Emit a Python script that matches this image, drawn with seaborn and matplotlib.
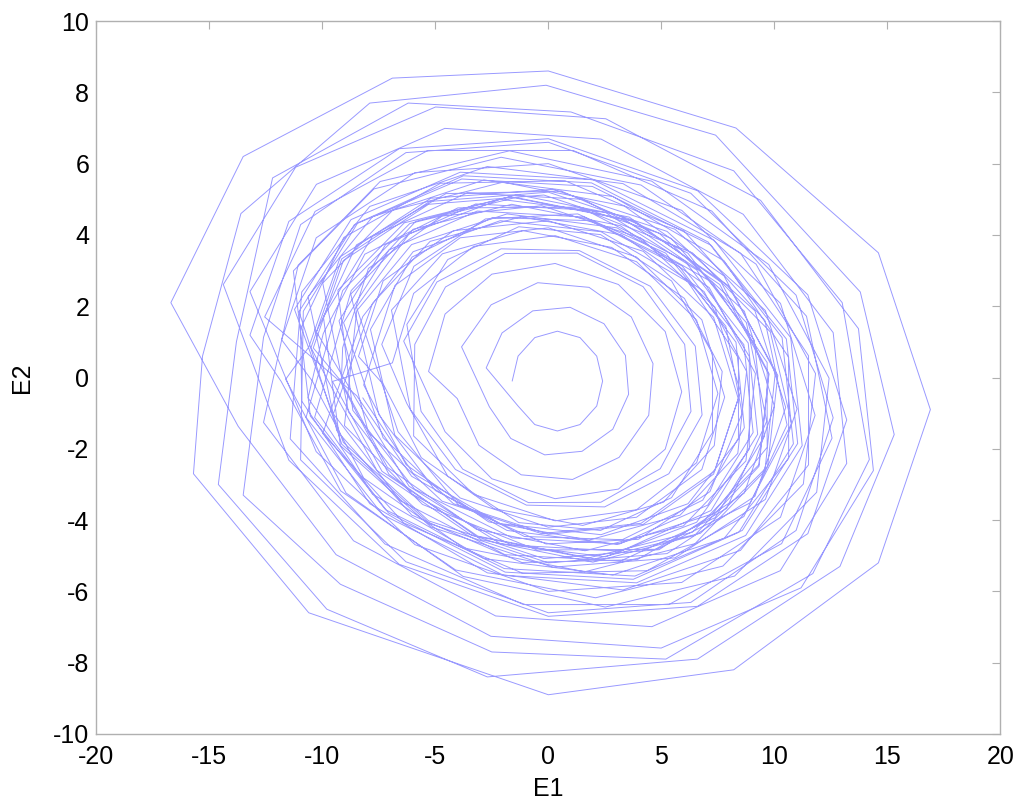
import matplotlib
matplotlib.use("Agg")
import matplotlib.pyplot as plt
import seaborn as sns
import pandas as pd

# trajectory samples (E1, E2), one revolution per line, clockwise
e1 = [
    -1.6, -1.34, -0.6, 0.4, 1.4, 2.14, 2.4, 2.14, 1.4, 0.4, -0.6, -1.34,
    -2.75, -2.05, -0.69, 0.96, 2.46, 3.41, 3.55, 2.85, 1.49, -0.16, -1.66, -2.61,
    -3.84, -2.53, -0.47, 1.80, 3.67, 4.63, 4.44, 3.13, 1.07, -1.20, -3.07, -4.03,
    -5.3, -4.57, -2.5, 0.3, 3.1, 5.17, 5.9, 5.17, 3.1, 0.3, -2.5, -4.57,
    -6.4, -4.93, -2.09, 1.37, 4.51, 6.5, 6.8, 5.33, 2.49, -0.97, -4.11, -6.1,
    -6.94, -4.69, -1.12, 2.8, 6.02, 7.69, 7.34, 5.09, 1.52, -2.4, -5.62, -7.29,
    -8.4, -7.31, -4.2, 0.0, 4.2, 7.31, 8.4, 7.31, 4.2, 0.0, -4.2, -7.31,
    -9.06, -7.05, -3.15, 1.60, 5.92, 8.65, 9.06, 7.05, 3.15, -1.60, -5.92, -8.65,
    -9.31, -6.37, -1.72, 3.39, 7.58, 9.75, 9.31, 6.37, 1.72, -3.39, -7.58, -9.75,
    -10.5, -9.14, -5.25, 0.0, 5.25, 9.14, 10.5, 9.14, 5.25, 0.0, -5.25, -9.14,
    -11.03, -8.58, -3.83, 1.95, 7.20, 10.53, 11.03, 8.58, 3.83, -1.95, -7.20, -10.53,
    -11.28, -7.72, -2.09, 4.10, 9.19, 11.82, 11.28, 7.72, 2.09, -4.10, -9.19, -11.82,
    -13.2, -11.48, -6.6, 0.0, 6.6, 11.48, 13.2, 11.48, 6.6, 0.0, -6.6, -11.48,
    -14.38, -11.18, -4.99, 2.54, 9.39, 13.72, 14.38, 11.18, 4.99, -2.54, -9.39, -13.72,
    -16.7, -13.5, -6.9, 0.0, 8.3, 14.6, 16.9, 14.6, 8.2, 0.0, -10.6, -15.7,
    -15.3, -13.6, -7.9, -0.1, 7.4, 13.8, 15.3, 12.9, 6.6, -2.7, -9.8, -14.6,
    -13.8, -12.2, -6.2, 1.0, 8.2, 13.0, 14.2, 11.7, 5.2, -2.5, -9.2, -13.5,
    -12.6, -10.96, -6.3, 0.0, 6.3, 10.96, 12.6, 10.96, 6.3, 0.0, -6.3, -10.96,
    -10.84, -8.43, -3.76, 1.91, 7.07, 10.34, 10.84, 8.43, 3.76, -1.91, -7.07, -10.34,
    -8.72, -5.87, -1.37, 3.58, 7.65, 9.76, 9.32, 6.47, 1.97, -2.98, -7.05, -9.16,
    -9.1, -7.96, -4.7, -0.3, 4.1, 7.36, 8.5, 7.36, 4.1, -0.3, -4.7, -7.96,
    -9.26, -7.20, -3.21, 1.64, 6.04, 8.84, 9.26, 7.20, 3.21, -1.64, -6.04, -8.84,
    -9.98, -6.89, -2.01, 3.36, 7.77, 10.04, 9.58, 6.49, 1.61, -3.76, -8.17, -10.44,
    -11.8, -10.27, -5.9, 0.0, 5.9, 10.27, 11.8, 10.27, 5.9, 0.0, -5.9, -10.27,
    -13.20, -10.26, -4.58, 2.33, 8.62, 12.60, 13.20, 10.26, 4.58, -2.33, -8.62, -12.60,
    -11.07, -7.44, -1.72, 4.57, 9.75, 12.42, 11.87, 8.24, 2.52, -3.77, -8.95, -11.62,
    -10.6, -9.2, -5.2, 0.2, 5.6, 9.6, 11.0, 9.6, 5.6, 0.2, -5.2, -9.2,
    -9.95, -7.78, -3.59, 1.52, 6.17, 9.11, 9.55, 7.38, 3.19, -1.92, -6.57, -9.51,
    -7.78, -5.23, -1.20, 3.24, 6.89, 8.77, 8.38, 5.83, 1.80, -2.64, -6.29, -8.17,
    -7.8, -6.79, -3.9, 0.0, 3.9, 6.79, 7.8, 6.79, 3.9, 0.0, -3.9, -6.79,
    -7.87, -6.03, -2.47, 1.86, 5.80, 8.30, 8.67, 6.83, 3.27, -1.06, -5.00, -7.50,
    -8.74, -5.98, -1.62, 3.18, 7.12, 9.16, 8.74, 5.98, 1.62, -3.18, -7.12, -9.16,
    -10.4, -9.07, -5.3, -0.2, 4.9, 8.67, 10.0, 8.67, 4.9, -0.2, -5.3, -9.07,
    -11.23, -8.73, -3.90, 1.98, 7.33, 10.72, 11.23, 8.73, 3.90, -1.98, -7.33, -10.72,
    -9.1, -6.13, -1.44, 3.72, 7.96, 10.15, 9.7, 6.73, 2.04, -3.12, -7.36, -9.55,
    -6.9, -5.96, -3.3, 0.3, 3.9, 6.56, 7.5, 6.56, 3.9, 0.3, -3.3, -5.96,
    -5.91, -4.55, -1.92, 1.28, 4.19, 6.03, 6.31, 4.95, 2.32, -0.88, -3.79, -5.63,
    -6.26, -4.45, -1.31, 2.31, 5.45, 7.26, 7.26, 5.45, 2.31, -1.31, -4.45, -6.26,
    -7.37, -5.95, -2.78, 1.30, 5.19, 7.85, 8.57, 7.15, 3.98, -0.10, -3.99, -6.65,
    -8.49, -6.16, -2.13, 2.53, 6.56, 8.89, 8.89, 6.56, 2.53, -2.13, -6.16, -8.49,
    -10.26, -8.49, -4.53, 0.57, 5.44, 8.76, 9.66, 7.89, 3.93, -1.17, -6.04, -9.36,
    -10.63, -7.78, -2.85, 2.85, 7.78, 10.63, 10.63, 7.78, 2.85, -2.85, -7.78, -10.63,
    -9.96, -8.12, -4.0, 1.30, 6.37, 9.82, 10.76, 8.92, 4.80, -0.50, -5.57, -9.02,
    -8.48, -6.05, -1.83, 3.03, 7.25, 9.68, 9.68, 7.25, 3.03, -1.83, -6.05, -8.48,
    -12.55, -10.32, -5.33, 1.10, 7.23, 11.42, 12.55, 10.32, 5.33, -1.10, -7.23, -11.42,
    -10.91, -7.90, -2.70, 3.30, 8.50, 11.51, 11.51, 8.50, 3.30, -2.70, -7.90, -10.91,
    -10.96, -9.05, -4.77, 0.74, 6.0, 9.58, 10.56, 8.65, 4.37, -1.14, -6.40, -9.98,
    -8.21, -5.98, -2.13, 2.33, 6.18, 8.41, 8.41, 6.18, 2.33, -2.13, -5.98, -8.21,
]
e2 = [
    -0.1, 0.6, 1.12, 1.3, 1.12, 0.6, -0.1, -0.8, -1.32, -1.5, -1.32, -0.8,
    0.27, 1.25, 1.87, 1.97, 1.51, 0.62, -0.47, -1.45, -2.07, -2.17, -1.71, -0.82,
    0.86, 2.04, 2.66, 2.53, 1.70, 0.39, -1.06, -2.24, -2.86, -2.73, -1.90, -0.59,
    0.17, 1.78, 2.9, 3.2, 2.61, 1.29, -0.4, -2.01, -3.13, -3.4, -2.84, -1.52,
    1.02, 2.68, 3.61, 3.56, 2.56, 0.88, -1.05, -2.70, -3.63, -3.58, -2.58, -0.90,
    1.89, 3.47, 4.12, 3.65, 2.22, 0.17, -1.91, -3.50, -4.15, -3.68, -2.25, -0.20,
    0.59, 2.71, 4.12, 4.4, 3.54, 1.69, -0.59, -2.71, -4.12, -4.4, -3.54, -1.69,
    1.54, 3.58, 4.67, 4.50, 3.13, 0.92, -1.54, -3.58, -4.67, -4.50, -3.13, -0.92,
    2.45, 4.34, 5.07, 4.43, 2.61, 0.09, -2.45, -4.34, -5.07, -4.43, -2.61, -0.09,
    0.84, 3.33, 4.94, 5.2, 4.10, 1.87, -0.84, -3.33, -4.94, -5.2, -4.10, -1.87,
    1.85, 4.29, 5.57, 5.36, 3.71, 1.08, -1.85, -4.29, -5.57, -5.36, -3.71, -1.08,
    2.99, 5.29, 6.18, 5.40, 3.18, 0.11, -2.99, -5.29, -6.18, -5.40, -3.18, -0.11,
    1.19, 4.38, 6.42, 6.7, 5.24, 2.32, -1.19, -4.38, -6.42, -6.7, -5.24, -2.32,
    2.61, 5.90, 7.59, 7.26, 4.97, 1.37, -2.61, -5.90, -7.59, -7.26, -4.97, -1.37,
    2.1, 6.2, 8.4, 8.6, 7.0, 3.5, -0.9, -5.2, -8.2, -8.9, -6.6, -2.7,
    0.6, 4.6, 7.7, 8.2, 6.8, 2.4, -1.6, -5.3, -7.9, -8.4, -6.5, -3.0,
    1.0, 5.6, 7.7, 7.45, 5.8, 2.1, -2.3, -5.5, -7.9, -7.7, -5.8, -3.3,
    1.13, 4.29, 6.31, 6.6, 5.17, 2.31, -1.13, -4.29, -6.31, -6.6, -5.17, -2.31,
    1.86, 4.34, 5.66, 5.46, 3.80, 1.12, -1.86, -4.34, -5.66, -5.46, -3.80, -1.12,
    2.44, 4.38, 5.13, 4.50, 2.67, 0.11, -2.49, -4.43, -5.18, -4.55, -2.72, -0.16,
    0.84, 3.06, 4.53, 4.82, 3.91, 1.98, -0.40, -2.62, -4.09, -4.38, -3.47, -1.54,
    1.59, 3.73, 4.87, 4.70, 3.27, 0.97, -1.59, -3.73, -4.87, -4.70, -3.27, -0.97,
    2.65, 4.69, 5.48, 4.81, 2.85, 0.14, -2.62, -4.66, -5.45, -4.78, -2.82, -0.10,
    1.06, 3.92, 5.75, 6.0, 4.69, 2.08, -1.06, -3.92, -5.75, -6.0, -4.69, -2.08,
    2.41, 5.42, 6.99, 6.69, 4.58, 1.26, -2.41, -5.42, -6.99, -6.69, -4.58, -1.26,
    3.15, 5.50, 6.36, 5.51, 3.17, -0.02, -3.22, -5.57, -6.44, -5.58, -3.24, -0.05,
    0.85, 3.39, 5.03, 5.28, 4.16, 1.88, -0.88, -3.42, -5.06, -5.32, -4.19, -1.91,
    1.70, 3.96, 5.18, 5.00, 3.49, 1.05, -1.66, -3.93, -5.15, -4.97, -3.45, -1.02,
    2.08, 3.82, 4.51, 4.00, 2.41, 0.17, -2.13, -3.86, -4.56, -4.05, -2.45, -0.21,
    0.55, 2.58, 3.92, 4.2, 3.38, 1.62, -0.55, -2.58, -3.92, -4.2, -3.38, -1.62,
    1.35, 3.38, 4.49, 4.40, 3.11, 0.99, -1.41, -3.44, -4.55, -4.46, -3.17, -1.04,
    2.34, 4.16, 4.86, 4.26, 2.52, 0.11, -2.34, -4.16, -4.86, -4.26, -2.52, -0.11,
    0.83, 3.28, 4.86, 5.12, 4.05, 1.86, -0.80, -3.24, -4.83, -5.08, -4.02, -1.82,
    1.91, 4.43, 5.76, 5.55, 3.85, 1.12, -1.91, -4.43, -5.76, -5.55, -3.85, -1.12,
    2.44, 4.32, 5.05, 4.40, 2.58, 0.06, -2.49, -4.37, -5.09, -4.45, -2.63, -0.11,
    0.41, 2.36, 3.68, 3.98, 3.25, 1.61, -0.45, -2.39, -3.71, -4.02, -3.28, -1.64,
    0.93, 2.54, 3.48, 3.49, 2.55, 0.93, -0.95, -2.56, -3.50, -3.51, -2.57, -0.95,
    1.49, 3.31, 4.23, 4.01, 2.71, 0.67, -1.55, -3.37, -4.29, -4.07, -2.77, -0.73,
    0.93, 3.12, 4.45, 4.59, 3.49, 1.44, -1.01, -3.20, -4.54, -4.67, -3.57, -1.52,
    1.98, 4.03, 5.00, 4.63, 3.02, 0.59, -2.01, -4.06, -5.03, -4.66, -3.05, -0.62,
    1.28, 3.72, 5.16, 5.23, 3.90, 1.54, -1.23, -3.67, -5.11, -5.19, -3.86, -1.49,
    2.27, 4.51, 5.54, 5.08, 3.27, 0.57, -2.27, -4.51, -5.54, -5.08, -3.27, -0.57,
    1.23, 3.46, 4.76, 4.78, 3.50, 1.28, -1.29, -3.52, -4.82, -4.84, -3.56, -1.35,
    1.87, 3.73, 4.59, 4.20, 2.67, 0.42, -1.96, -3.83, -4.68, -4.29, -2.77, -0.51,
    1.70, 4.66, 6.37, 6.37, 4.67, 1.72, -1.70, -4.66, -6.37, -6.37, -4.67, -1.72,
    2.40, 4.80, 5.92, 5.44, 3.49, 0.61, -2.45, -4.85, -5.96, -5.48, -3.54, -0.66,
    1.37, 3.93, 5.45, 5.52, 4.11, 1.60, -1.33, -3.90, -5.42, -5.49, -4.08, -1.57,
    1.71, 3.53, 4.40, 4.09, 2.68, 0.55, -1.73, -3.54, -4.41, -4.10, -2.69, -0.57,
]

x_ticks = [-20, -15, -10, -5, 0, 5, 10, 15, 20]
y_ticks = [-10, -8, -6, -4, -2, 0, 2, 4, 6, 8, 10]

sns.set_style("white")
plt.rcParams['font.family'] = ['Liberation Sans', 'DejaVu Sans']
plt.rcParams['axes.unicode_minus'] = False

df = pd.DataFrame({'E1': e1, 'E2': e2})

fig = plt.figure(figsize=(10.24, 8.11), dpi=100)
ax = fig.add_axes([0.094, 0.095, 0.883, 0.879])

sns.lineplot(data=df, x='E1', y='E2', sort=False, estimator=None,
             color='#0000ff', linewidth=0.7, alpha=0.4, ax=ax)

ax.set_xlim(-20, 20)
ax.set_ylim(-10, 10)
ax.set_xticks(x_ticks)
ax.set_yticks(y_ticks)
ax.tick_params(direction='in', length=6, width=0.8, color='#b0b0b0',
               labelsize=18, labelcolor='black', top=True, right=True)
ax.tick_params(axis='x', pad=8)
ax.tick_params(axis='y', pad=5)
for sp in ax.spines.values():
    sp.set_color('#b0b0b0')
    sp.set_linewidth(1.0)

ax.set_xlabel('E1', fontsize=18, color='black', labelpad=6)
ax.set_ylabel('E2', fontsize=18, color='black', labelpad=14)

fig.savefig('out.png', dpi=100)
